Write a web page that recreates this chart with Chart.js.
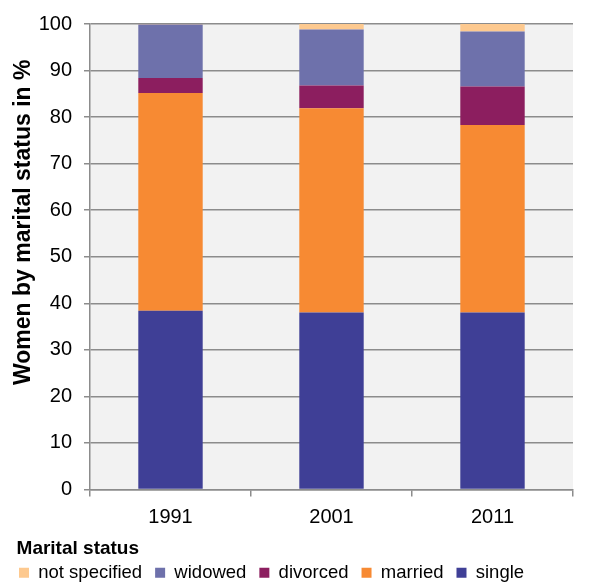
<!DOCTYPE html>
<html>
<head>
<meta charset="utf-8">
<script src="https://cdn.jsdelivr.net/npm/chart.js@4/dist/chart.umd.min.js"></script>
<style>
  html, body { margin: 0; padding: 0; background: #fff; }
  #wrap { width: 593px; height: 585px; }
</style>
</head>
<body>
<div id="wrap"><canvas id="chart" width="593" height="585"></canvas></div>
<script>
// Census years
const years = ["1991", "2001", "2011"]

// Share of women per marital status, in %
const single = [38.4, 38.0, 38.0]
const married = [46.8, 43.9, 40.3]
const divorced = [3.2, 4.9, 8.3]
const widowed = [11.5, 12.0, 11.8]
const notSpecified = [0.1, 1.2, 1.6]

const yTicks = [0, 10, 20, 30, 40, 50, 60, 70, 80, 90, 100]

const yTitle = "Women by marital status in %"

const FONT = "'Liberation Sans', Arial, sans-serif"

// light grey fill behind the plot area
const plotBackground = {
  id: "plotBackground",
  beforeDraw(chart) {
    const { ctx, chartArea: a } = chart
    ctx.save()
    ctx.fillStyle = "#f2f2f2"
    ctx.fillRect(a.left, a.top, a.right - a.left, a.bottom - a.top)
    ctx.restore()
  },
}

// vertical axis title, sitting a bit above the middle of the axis
const axisTitle = {
  id: "axisTitle",
  afterDraw(chart) {
    const { ctx, chartArea: a } = chart
    ctx.save()
    ctx.translate(24, a.top + (a.bottom - a.top) * 0.426)
    ctx.rotate(-Math.PI / 2)
    ctx.font = "bold 23px " + FONT
    ctx.fillStyle = "#000"
    ctx.textAlign = "center"
    ctx.textBaseline = "middle"
    ctx.fillText(yTitle, 0, 0)
    ctx.restore()
  },
}

const bar = (label, data, color) => ({
  label,
  data,
  yAxisID: "y",
  backgroundColor: color,
  borderWidth: 0,
  barPercentage: 0.4,
  categoryPercentage: 1,
})

const ctx = document.getElementById("chart").getContext("2d")

new Chart(ctx, {
  type: "bar",
  data: {
    labels: years,
    datasets: [
      bar("single", single, "#3f3f96"),
      bar("married", married, "#f78a33"),
      bar("divorced", divorced, "#8c1e5f"),
      bar("widowed", widowed, "#6e71ab"),
      bar("not specified", notSpecified, "#fdc98f"),
    ],
  },
  options: {
    responsive: false,
    animation: false,
    layout: { padding: { left: 6, right: 0, top: 16, bottom: -7 } },
    plugins: {
      tooltip: { enabled: false },
      legend: {
        position: "bottom",
        reverse: true,
        align: "start",
        labels: {
          boxWidth: 10,
          boxHeight: 10,
          padding: 13,
          color: "#000",
          font: { family: FONT, size: 18.5 },
        },
        title: {
          display: true,
          text: "  Marital status",
          position: "start",
          color: "#000",
          padding: { top: 9.5, bottom: -11.3 },
          font: { family: FONT, size: 19, weight: "bold" },
        },
      },
    },
    scales: {
      x: {
        stacked: true,
        offset: true,
        afterFit: (scale) => {
          scale.height = 40
        },
        border: { display: true, color: "#8c8c8c", width: 1.5 },
        grid: {
          offset: true,
          drawOnChartArea: false,
          drawTicks: true,
          tickLength: 7,
          color: "#8c8c8c",
          lineWidth: 1.5,
        },
        ticks: {
          color: "#000",
          padding: 9,
          font: { family: FONT, size: 20 },
        },
      },
      y: {
        stacked: true,
        min: 0,
        max: 100,
        afterBuildTicks: (scale) => {
          scale.ticks = yTicks.map((v) => ({ value: v }))
        },
        afterFit: (scale) => {
          scale.width = 84
        },
        border: { display: true, color: "#8c8c8c", width: 1.5 },
        grid: {
          color: "#8c8c8c",
          lineWidth: 1.5,
          tickLength: 6,
        },
        ticks: {
          color: "#000",
          padding: 12,
          font: { family: FONT, size: 20 },
        },
      },
      // empty strip on the right so the plot stops short of the edge
      yRight: {
        type: "linear",
        position: "right",
        display: true,
        afterFit: (scale) => {
          scale.width = 20
        },
        border: { display: false },
        grid: { display: false, drawTicks: false },
        ticks: { display: false },
      },
    },
  },
  plugins: [plotBackground, axisTitle],
})
</script>
</body>
</html>
